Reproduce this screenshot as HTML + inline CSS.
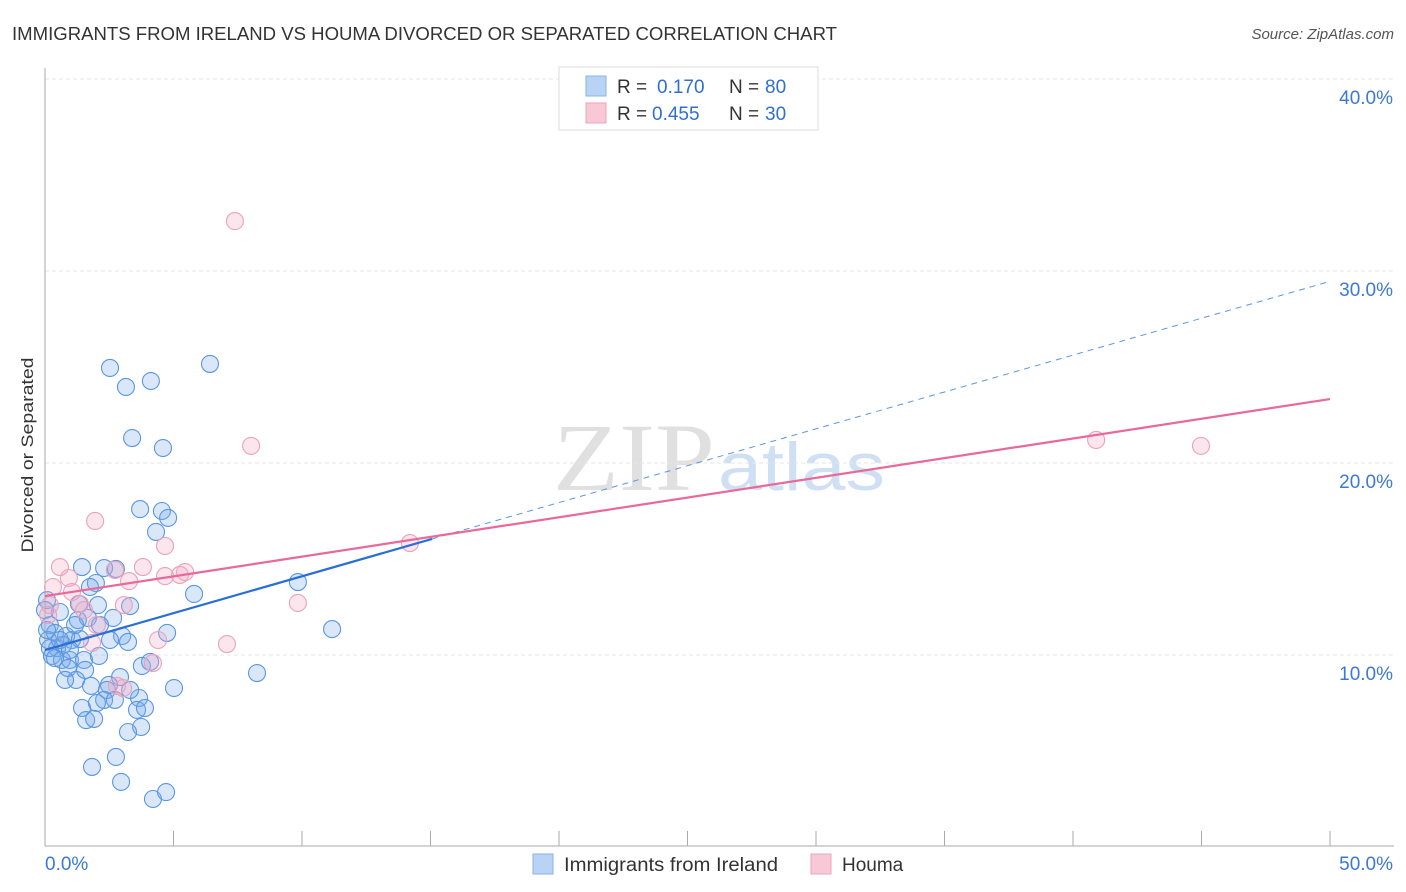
<!DOCTYPE html>
<html><head><meta charset="utf-8"><style>
body{margin:0;background:#fff;font-family:"Liberation Sans",sans-serif;}
svg{display:block}
</style></head><body>
<svg id="chart" width="1406" height="892">
<text x="12" y="40" font-size="18" fill="#333" textLength="825" lengthAdjust="spacingAndGlyphs">IMMIGRANTS FROM IRELAND VS HOUMA DIVORCED OR SEPARATED CORRELATION CHART</text>
<text x="1394" y="39" font-size="15" fill="#555" font-style="italic" text-anchor="end">Source: ZipAtlas.com</text>
<text transform="translate(33,455) rotate(-90)" font-size="17" fill="#333" text-anchor="middle" textLength="195" lengthAdjust="spacingAndGlyphs">Divorced or Separated</text>
<g><text x="553" y="490" font-size="96" font-family="Liberation Serif,serif" fill="#e0e0e0" textLength="162" lengthAdjust="spacingAndGlyphs">ZIP</text><text x="718" y="490" font-size="68" fill="#cfe0f5" textLength="167" lengthAdjust="spacingAndGlyphs">atlas</text></g>
<g id="grid"></g><g id="axes"></g><g id="lines"></g><g id="pts"></g>
<g>
<rect x="559" y="67" width="259" height="63" fill="#fff" stroke="#ddd"/>
<rect x="586" y="76" width="20" height="20" fill="#b8d3f3" stroke="#8ab4e8"/>
<rect x="586" y="103" width="20" height="20" fill="#f9c8d6" stroke="#eaa5bc"/>
<text x="617" y="93" font-size="19" fill="#333">R =</text><text x="657" y="93" font-size="19" fill="#2f6fd0">0.170</text>
<text x="729" y="93" font-size="19" fill="#333">N =</text><text x="765" y="93" font-size="19" fill="#2f6fd0">80</text>
<text x="617" y="120" font-size="19" fill="#333">R =</text><text x="652" y="120" font-size="19" fill="#2f6fd0">0.455</text>
<text x="729" y="120" font-size="19" fill="#333">N =</text><text x="765" y="120" font-size="19" fill="#2f6fd0">30</text>
</g>
<g>
<rect x="533" y="854" width="20" height="20" fill="#b8d3f3" stroke="#8ab4e8"/>
<text x="564" y="871" font-size="19" fill="#333" textLength="214" lengthAdjust="spacingAndGlyphs">Immigrants from Ireland</text>
<rect x="811" y="854" width="20" height="20" fill="#f9c8d6" stroke="#eaa5bc"/>
<text x="842" y="871" font-size="19" fill="#333">Houma</text>
</g>
</svg>
<script>
const blueX=[2.53,3.15,4.12,6.42,3.39,4.59,3.70,4.55,4.79,4.32,1.44,2.30,2.76,1.98,1.75,5.80,9.84,1.32,2.06,3.31,2.65,1.28,1.67,0.58,0.19,0.39,0.12,0.82,1.05,1.36,3.00,3.23,4.75,11.17,0.47,0.70,0.27,0.66,0.97,1.52,2.10,0.89,3.77,4.09,8.25,1.21,1.79,2.92,2.49,2.41,5.02,2.30,2.02,3.66,1.44,3.58,3.89,1.60,1.91,3.74,3.23,2.76,1.83,2.96,4.20,4.71,0.08,0.19,0.58,0.0,0.39,1.17,2.14,1.56,2.72,3.31,0.97,0.08,0.78,2.53];
const blueY=[24.95,23.96,24.27,25.16,21.30,20.78,17.60,17.50,17.14,16.41,14.58,14.53,14.48,13.75,13.54,13.18,13.80,12.66,12.60,12.55,11.93,11.82,11.93,12.24,11.56,11.15,10.78,10.99,10.78,10.83,10.99,10.68,11.15,11.35,10.36,10.52,9.95,9.74,9.74,9.74,9.95,9.32,9.43,9.64,9.06,8.70,8.39,8.85,8.44,8.18,8.28,7.66,7.50,7.76,7.24,7.14,7.24,6.61,6.67,6.25,5.99,4.69,4.17,3.39,2.50,2.86,12.86,10.36,10.78,12.34,9.84,11.56,11.56,9.22,7.66,8.18,10.26,11.30,8.70,10.78];
const pinkX=[7.39,8.02,1.95,14.20,40.90,44.98,0.58,4.67,0.31,0.93,1.05,2.72,3.27,3.81,4.67,5.25,5.45,1.36,1.52,9.84,3.07,2.02,0.19,0.12,1.83,4.40,7.08,4.20,2.80,3.04];
const pinkY=[32.60,20.89,16.98,15.83,21.20,20.89,14.58,15.68,13.54,14.01,13.28,14.43,13.85,14.58,14.11,14.17,14.32,12.66,12.34,12.71,12.60,11.56,12.60,12.08,10.63,10.78,10.57,9.58,8.39,8.28];
const blueTrend=[10.26,29.46];
const blueSolidEnd=15.06;
const pinkTrend=[13.07,23.33];
const yTicks=[10,20,30,40];
const yTickLabels=["10.0%","20.0%","30.0%","40.0%"];
const xTicks=[0,5,10,15,20,25,30,35,40,45,50];
const xTickLabels=["0.0%","50.0%"];
const NS="http://www.w3.org/2000/svg";
const sx=v=>45+v*25.7, sy=v=>847-v*19.2;
function mk(tag,attrs,parent){const e=document.createElementNS(NS,tag);for(const k in attrs)e.setAttribute(k,attrs[k]);parent.appendChild(e);return e;}
const grid=document.getElementById('grid'),axes=document.getElementById('axes'),lines=document.getElementById('lines'),pts=document.getElementById('pts');
yTicks.forEach((t,i)=>{
 const l=mk('line',{x1:45,x2:1394,y1:sy(t),y2:sy(t),stroke:'#e6e6e6','stroke-dasharray':'4 3'},grid);
 
 
 const tx=mk('text',{x:1393,y:sy(t)+25,'font-size':19,fill:'#3b78d8','text-anchor':'end'},axes);
 tx.textContent=yTickLabels[i];
 
 
});
const ya=mk('line',{x1:45,x2:45,y1:68,y2:846,stroke:'#aaa'},axes);


const xa=mk('line',{x1:45,x2:1394,y1:846,y2:846,stroke:'#aaa'},axes);


xTicks.forEach(t=>{const l=mk('line',{x1:sx(t),x2:sx(t),y1:831,y2:846,stroke:'#aaa'},axes);
 
 });
const x0=mk('text',{x:45,y:870,'font-size':19,fill:'#3b78d8'},axes);x0.textContent=xTickLabels[0];


const x1=mk('text',{x:1393,y:870,'font-size':19,fill:'#3b78d8','text-anchor':'end'},axes);x1.textContent=xTickLabels[1];


function pt(i,xs,ys,fill,stroke,name){const c=mk('circle',{cx:sx(xs[i]),cy:sy(ys[i]),r:8.5,fill:fill,stroke:stroke,'stroke-width':1.1},pts);
 
 }
blueX.forEach((_,i)=>pt(i,blueX,blueY,'rgba(120,170,235,0.28)','#5a97e2','point-ireland'));
pinkX.forEach((_,i)=>pt(i,pinkX,pinkY,'rgba(245,165,195,0.28)','#eba2bb','point-houma'));
const by=x=>blueTrend[0]+(blueTrend[1]-blueTrend[0])*x/50;
const bd=mk('line',{x1:sx(blueSolidEnd),y1:sy(by(blueSolidEnd)),x2:sx(50),y2:sy(by(50)),stroke:'#5a97e2','stroke-width':1,'stroke-dasharray':'6 5'},lines);


const pl=mk('line',{x1:sx(0),y1:sy(pinkTrend[0]),x2:sx(50),y2:sy(pinkTrend[1]),stroke:'#e8699a','stroke-width':2.2},pts);


const bl=mk('line',{x1:sx(0),y1:sy(by(0)),x2:sx(blueSolidEnd),y2:sy(by(blueSolidEnd)),stroke:'#2a6fd6','stroke-width':2.2},pts);


</script>
</body></html>
